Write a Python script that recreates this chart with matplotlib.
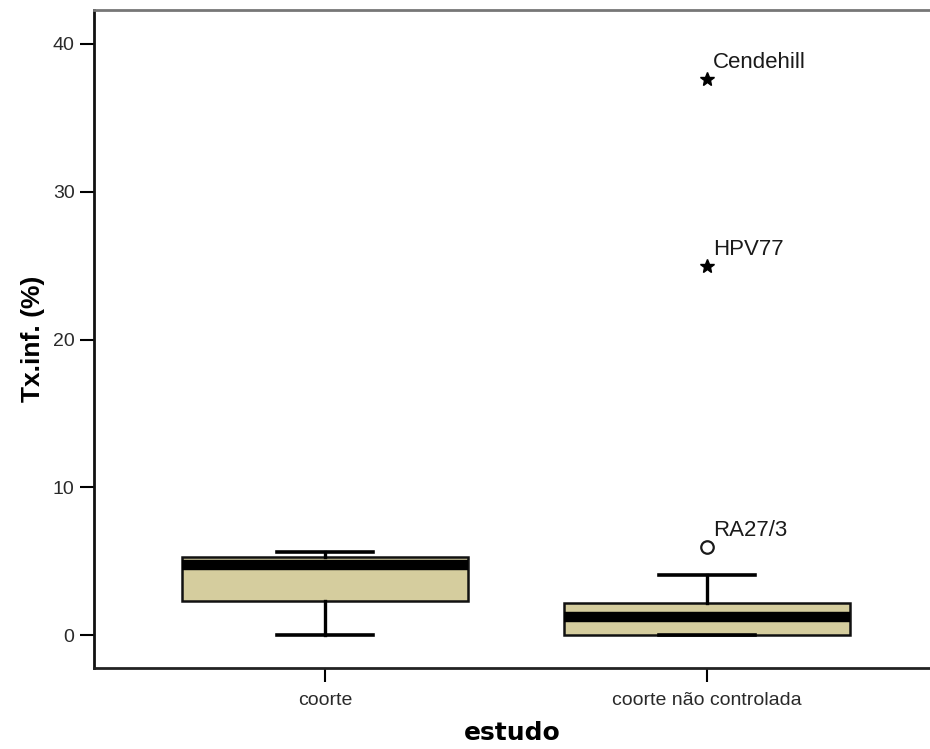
import matplotlib
matplotlib.use("Agg")
from matplotlib import pyplot as plt

categories = ["coorte", "coorte não controlada"]
q1 = [2.3, 0.0]
med = [4.75, 1.25]
q3 = [5.25, 2.15]
whislo = [0.0, 0.0]
whishi = [5.65, 4.05]

# extreme values labelled by case (group index, value, label, marker)
out_group = [1, 1, 1]
out_value = [5.95, 25.0, 37.6]
out_label = ["RA27/3", "HPV77", "Cendehill"]
out_marker = ["o", "*", "*"]

BOX_COLOR = "#D5CD9E"

fig = plt.figure(figsize=(9.3, 7.49), dpi=100)
ax = fig.add_axes([94 / 930, 81 / 749, 836 / 930, 658 / 749])

stats = []
for i in range(len(categories)):
    stats.append({"q1": q1[i], "med": med[i], "q3": q3[i],
                  "whislo": whislo[i], "whishi": whishi[i], "fliers": []})

ax.bxp(stats, positions=[0, 1], widths=0.75, capwidths=0.25,
       patch_artist=True, showfliers=False,
       boxprops=dict(facecolor=BOX_COLOR, edgecolor="#111111", linewidth=1.8),
       medianprops=dict(color="black", linewidth=7.5, solid_capstyle="butt"),
       whiskerprops=dict(color="black", linewidth=2.4),
       capprops=dict(color="black", linewidth=2.6))

for g, v, lab, m in zip(out_group, out_value, out_label, out_marker):
    if m == "o":
        ax.plot(g, v, marker="o", markersize=9, markerfacecolor="white",
                markeredgecolor="#1a1a1a", markeredgewidth=1.6, linestyle="none")
    else:
        ax.plot(g, v, marker="*", markersize=10, color="black", linestyle="none")
    ax.annotate(lab, (g, v), xytext=(6, 11), textcoords="offset pixels",
                fontsize=16, family="Liberation Sans", color="#1a1a1a",
                ha="left", va="baseline")

ax.set_xlim(-0.605, 1.584)
ax.set_ylim(-2.23, 42.3)
ax.set_xticks([0, 1])
ax.set_xticklabels(categories)
ax.set_yticks([0, 10, 20, 30, 40])

for lab in ax.get_xticklabels() + ax.get_yticklabels():
    lab.set_family("Liberation Sans")
    lab.set_fontsize(14)
    lab.set_color("#2a2a2a")
ax.tick_params(length=10, width=1.5, color="black")
ax.tick_params(axis="x", pad=7)
ax.tick_params(axis="y", pad=4)

ax.spines["right"].set_visible(False)
ax.spines["left"].set_color("#111111")
ax.spines["left"].set_linewidth(2)
ax.spines["bottom"].set_color("#222222")
ax.spines["bottom"].set_linewidth(2)
ax.spines["top"].set_color("#777777")
ax.spines["top"].set_linewidth(2)

ax.set_xlabel("estudo", fontsize=18, fontweight="bold", family="DejaVu Sans")
ax.xaxis.set_label_coords(0.5, -0.08)
ax.set_ylabel("Tx.inf. (%)", fontsize=19, fontweight="bold", family="Liberation Sans")
ax.yaxis.set_label_coords(-0.059, 0.5)

fig.savefig("out.png", dpi=100)
